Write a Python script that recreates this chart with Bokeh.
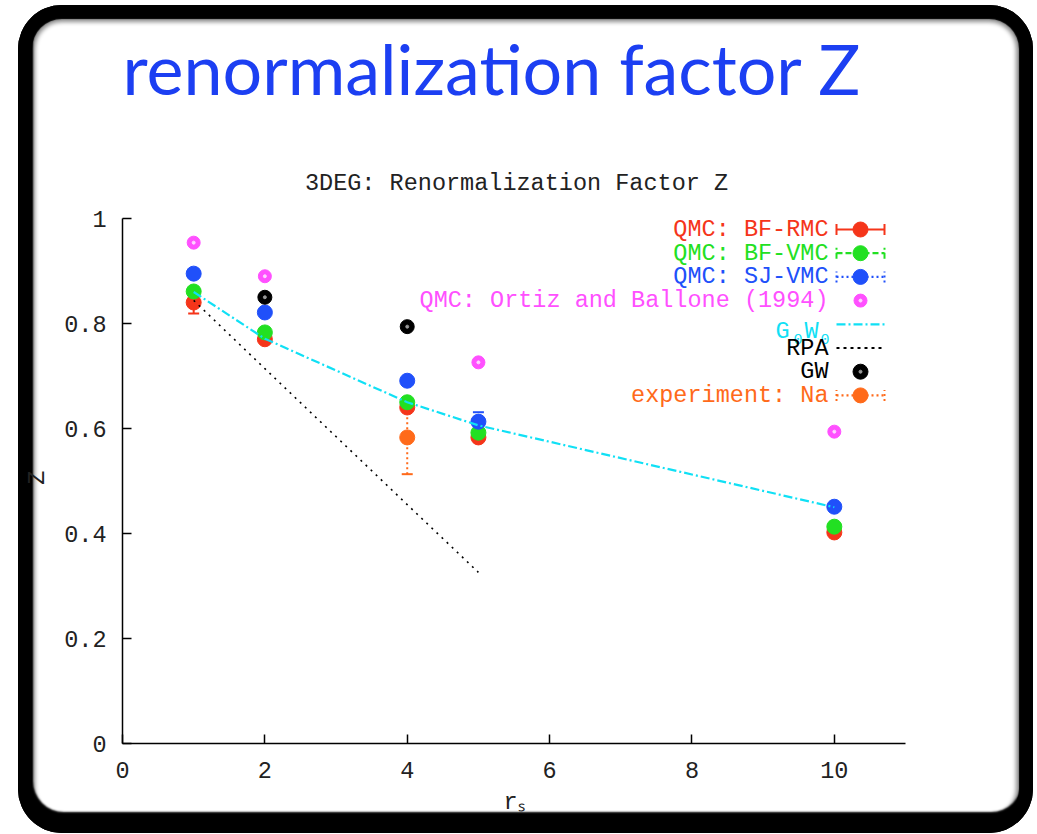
from bokeh.plotting import figure
from bokeh.models import (Range1d, FixedTicker, Label, Title,
                          ColumnDataSource, Whisker, TeeHead)
from bokeh.embed import file_html
from bokeh.resources import INLINE

# ---- data: quasiparticle renormalization factor Z of the 3D electron gas ----
rs = [1, 2, 4, 5, 10]
z_bf_rmc = [0.840, 0.770, 0.640, 0.583, 0.402]
err_bf_rmc = [0.021, 0.0, 0.0, 0.0, 0.0]
z_bf_vmc = [0.861, 0.783, 0.650, 0.592, 0.413]
err_bf_vmc = [0.0, 0.0, 0.0, 0.0, 0.0]
z_sj_vmc = [0.895, 0.821, 0.691, 0.613, 0.451]
err_sj_vmc = [0.0, 0.0, 0.0, 0.018, 0.0]
rs_ob = [1, 2, 5, 10]
z_ob = [0.954, 0.890, 0.726, 0.594]
rs_g0w0 = [1, 2, 4, 5, 10]
z_g0w0 = [0.860, 0.771, 0.650, 0.606, 0.450]
rs_rpa = [1, 2, 4, 5]
z_rpa = [0.844, 0.714, 0.455, 0.326]
rs_gw = [2, 4]
z_gw = [0.850, 0.794]
rs_exp = [4]
z_exp = [0.583]
err_exp = [0.07]

x_ticks = [0, 2, 4, 6, 8, 10]
y_ticks = [0, 0.2, 0.4, 0.6, 0.8, 1.0]
y_tick_labels = ["0", "0.2", "0.4", "0.6", "0.8", "1"]

# ---- colours ----
C_RED = "#f5351a"
C_GREEN = "#22e022"
C_BLUE = "#2050fa"
C_MAGENTA = "#ff50ff"
C_CYAN = "#10e0f5"
C_BLACK = "#000000"
C_ORANGE = "#ff6a1a"
C_TITLE = "#1c3ff2"
C_TEXT = "#222222"

MONO = "Liberation Mono"
FS = "23.5px"

# ---- page geometry (pixels); the figure sits inside a rounded slide frame ----
PAGE_X, PAGE_Y = 18, 5
W, H = 1015, 828
# the data area reaches above the y axis so the chart title can sit inside it
FRAME_L, FRAME_R, FRAME_TOP, FRAME_B = 104, 887, 122, 738
AXIS_T = 213                      # pixel row of the top of the y axis (Z = 1)
X_MIN, X_MAX, Y_MIN, Y_MAX = 0, 11, 0, 1
Y_TOP = Y_MAX + (AXIS_T - FRAME_TOP) * (Y_MAX - Y_MIN) / (FRAME_B - AXIS_T)


def dx(px):
    """figure pixel column -> data x"""
    return X_MIN + (px - FRAME_L) * (X_MAX - X_MIN) / (FRAME_R - FRAME_L)


def dy(py):
    """figure pixel row -> data y"""
    return Y_MIN + (FRAME_B - py) * (Y_MAX - Y_MIN) / (FRAME_B - AXIS_T)


p = figure(width=W, height=H, title=None, output_backend="svg",
           toolbar_location=None,
           x_range=Range1d(X_MIN, X_MAX), y_range=Range1d(Y_MIN, Y_TOP),
           min_border_left=FRAME_L, min_border_right=W - FRAME_R,
           min_border_top=FRAME_TOP, min_border_bottom=H - FRAME_B,
           styles={
               "margin-left": f"{PAGE_X}px",
               "margin-top": f"{PAGE_Y}px",
               "border-radius": "44px",
               "box-shadow": ("inset 0 0 1px 14px #000, "
                              "inset 2px -8px 2px 13px #000, "
                              "inset 0 0 4px 17px rgba(0,0,0,0.45)"),
           })
p.outline_line_color = None
p.grid.visible = False
p.background_fill_color = "white"
p.border_fill_color = None

for ax in (p.xaxis[0], p.yaxis[0]):
    ax.axis_line_color = "black"
    ax.axis_line_width = 1.5
    ax.major_tick_line_color = "black"
    ax.major_tick_line_width = 1.5
    ax.major_tick_in = 9
    ax.major_tick_out = 0
    ax.minor_tick_line_color = None
    ax.major_label_text_font = MONO
    ax.major_label_text_font_size = FS
    ax.major_label_text_color = C_TEXT
    ax.axis_label_text_font = MONO
    ax.axis_label_text_font_size = FS
    ax.axis_label_text_font_style = "normal"
    ax.axis_label_text_color = C_TEXT

p.xaxis.ticker = FixedTicker(ticks=x_ticks)
p.yaxis.ticker = FixedTicker(ticks=y_ticks)
p.yaxis.bounds = (Y_MIN, Y_MAX)
p.yaxis.major_label_overrides = {t: s for t, s in zip(y_ticks, y_tick_labels)}
p.xaxis.major_label_standoff = 18
p.yaxis.major_label_standoff = 16
p.xaxis.axis_label = "r\u209b"
p.xaxis.axis_label_standoff = 8
# trailing no-break spaces centre the letter on the drawn part of the axis
p.yaxis.axis_label = "Z" + "\u00a0" * 6
p.yaxis.axis_label_standoff = 10


def errorbars(xs, ys, es, color, dash):
    keep = [i for i, e in enumerate(es) if e > 0]
    if not keep:
        return
    src = ColumnDataSource(dict(
        x=[xs[i] for i in keep],
        lo=[ys[i] - es[i] for i in keep],
        hi=[ys[i] + es[i] for i in keep]))
    head = dict(size=11, line_color=color, line_width=2)
    p.add_layout(Whisker(base="x", lower="lo", upper="hi", source=src,
                         line_color=color, line_width=2, line_dash=dash,
                         lower_head=TeeHead(**head), upper_head=TeeHead(**head)))


# ---- curves and points ----
errorbars(rs_exp, z_exp, err_exp, C_ORANGE, "2 3")
p.scatter(rs_exp, z_exp, size=15, color=C_ORANGE)

errorbars(rs, z_bf_rmc, err_bf_rmc, C_RED, "solid")
p.scatter(rs, z_bf_rmc, size=15, color=C_RED)
errorbars(rs, z_bf_vmc, err_bf_vmc, C_GREEN, "6 3")
p.scatter(rs, z_bf_vmc, size=15, color=C_GREEN)
errorbars(rs, z_sj_vmc, err_sj_vmc, C_BLUE, "2 3")
p.scatter(rs, z_sj_vmc, size=15, color=C_BLUE)

p.scatter(rs_ob, z_ob, size=13, color=C_MAGENTA)
p.scatter(rs_ob, z_ob, size=3, color="#ffd6ff")

p.line(rs_g0w0, z_g0w0, line_color=C_CYAN, line_width=2.2, line_dash="9 3 2 3")
p.line(rs_rpa, z_rpa, line_color=C_BLACK, line_width=1.6, line_dash="2 5")

p.scatter(rs_gw, z_gw, size=14, color=C_BLACK)
p.scatter(rs_gw, z_gw, size=3, color="#9a9a9a")

# ---- key: right-aligned coloured labels, sample to the right ----
LEG_TEXT_R, LEG_S0, LEG_S1 = 810, 818, 866
LEG_TOP, LEG_STEP = 224, 23.7
legend_rows = [
    ("QMC: BF-RMC", C_RED, "solid", True, True),
    ("QMC: BF-VMC", C_GREEN, "6 3", True, True),
    ("QMC: SJ-VMC", C_BLUE, "2 3", True, True),
    ("QMC: Ortiz and Ballone (1994)", C_MAGENTA, None, True, False),
    ("G0W0", C_CYAN, "9 3 2 3", False, False),
    ("RPA", C_BLACK, "3 4", False, False),
    ("GW", C_BLACK, None, True, False),
    ("experiment: Na", C_ORANGE, "2 3", True, True),
]
half = 5.5 / (FRAME_B - AXIS_T)
for i, (lab, col, dash, marker, caps) in enumerate(legend_rows):
    row_py = LEG_TOP + i * LEG_STEP
    yv = dy(row_py)
    if lab == "G0W0":
        # G with subscript 0, W with subscript 0
        for txt, left_px, base_px, size in (("G", 757, 326, FS), ("0", 775, 333, "15px"),
                                            ("W", 786, 326, FS), ("0", 802, 333, "15px")):
            p.add_layout(Label(x=dx(left_px), y=dy(base_px), text=txt, text_color=col,
                               text_font=MONO, text_font_size=size,
                               text_align="left", text_baseline="alphabetic"))
    else:
        p.add_layout(Label(x=dx(LEG_TEXT_R), y=yv, text=lab, text_color=col,
                           text_font=MONO, text_font_size=FS,
                           text_align="right", text_baseline="middle"))
    if dash is not None:
        p.segment(x0=[dx(LEG_S0)], y0=[yv], x1=[dx(LEG_S1)], y1=[yv],
                  line_color=col, line_width=2.2, line_dash=dash)
    if caps:
        p.segment(x0=[dx(LEG_S0), dx(LEG_S1)], y0=[yv - half, yv - half],
                  x1=[dx(LEG_S0), dx(LEG_S1)], y1=[yv + half, yv + half],
                  line_color=col, line_width=2, line_dash=dash)
    if marker:
        xm = dx((LEG_S0 + LEG_S1) / 2)
        msize = 13 if col == C_MAGENTA else 15
        p.scatter([xm], [yv], size=msize, color=col)
        if col == C_MAGENTA:
            p.scatter([xm], [yv], size=3, color="#ffd6ff")
        if lab == "GW":
            p.scatter([xm], [yv], size=3, color="#9a9a9a")

# ---- chart title (inside the data area, above the axis top) ----
p.add_layout(Label(x=dx(498), y=dy(178), text="3DEG: Renormalization Factor Z",
                   text_font=MONO, text_font_size=FS, text_color=C_TEXT,
                   text_align="center", text_baseline="middle"))

# ---- slide heading ----
p.add_layout(Title(text="renormalization factor Z", align="left", offset=0,
                   text_font="Lato", text_font_size="70px", text_font_style="normal",
                   text_color=C_TITLE, standoff=36), "above")

open("out.html", "w").write(file_html(p, INLINE))
